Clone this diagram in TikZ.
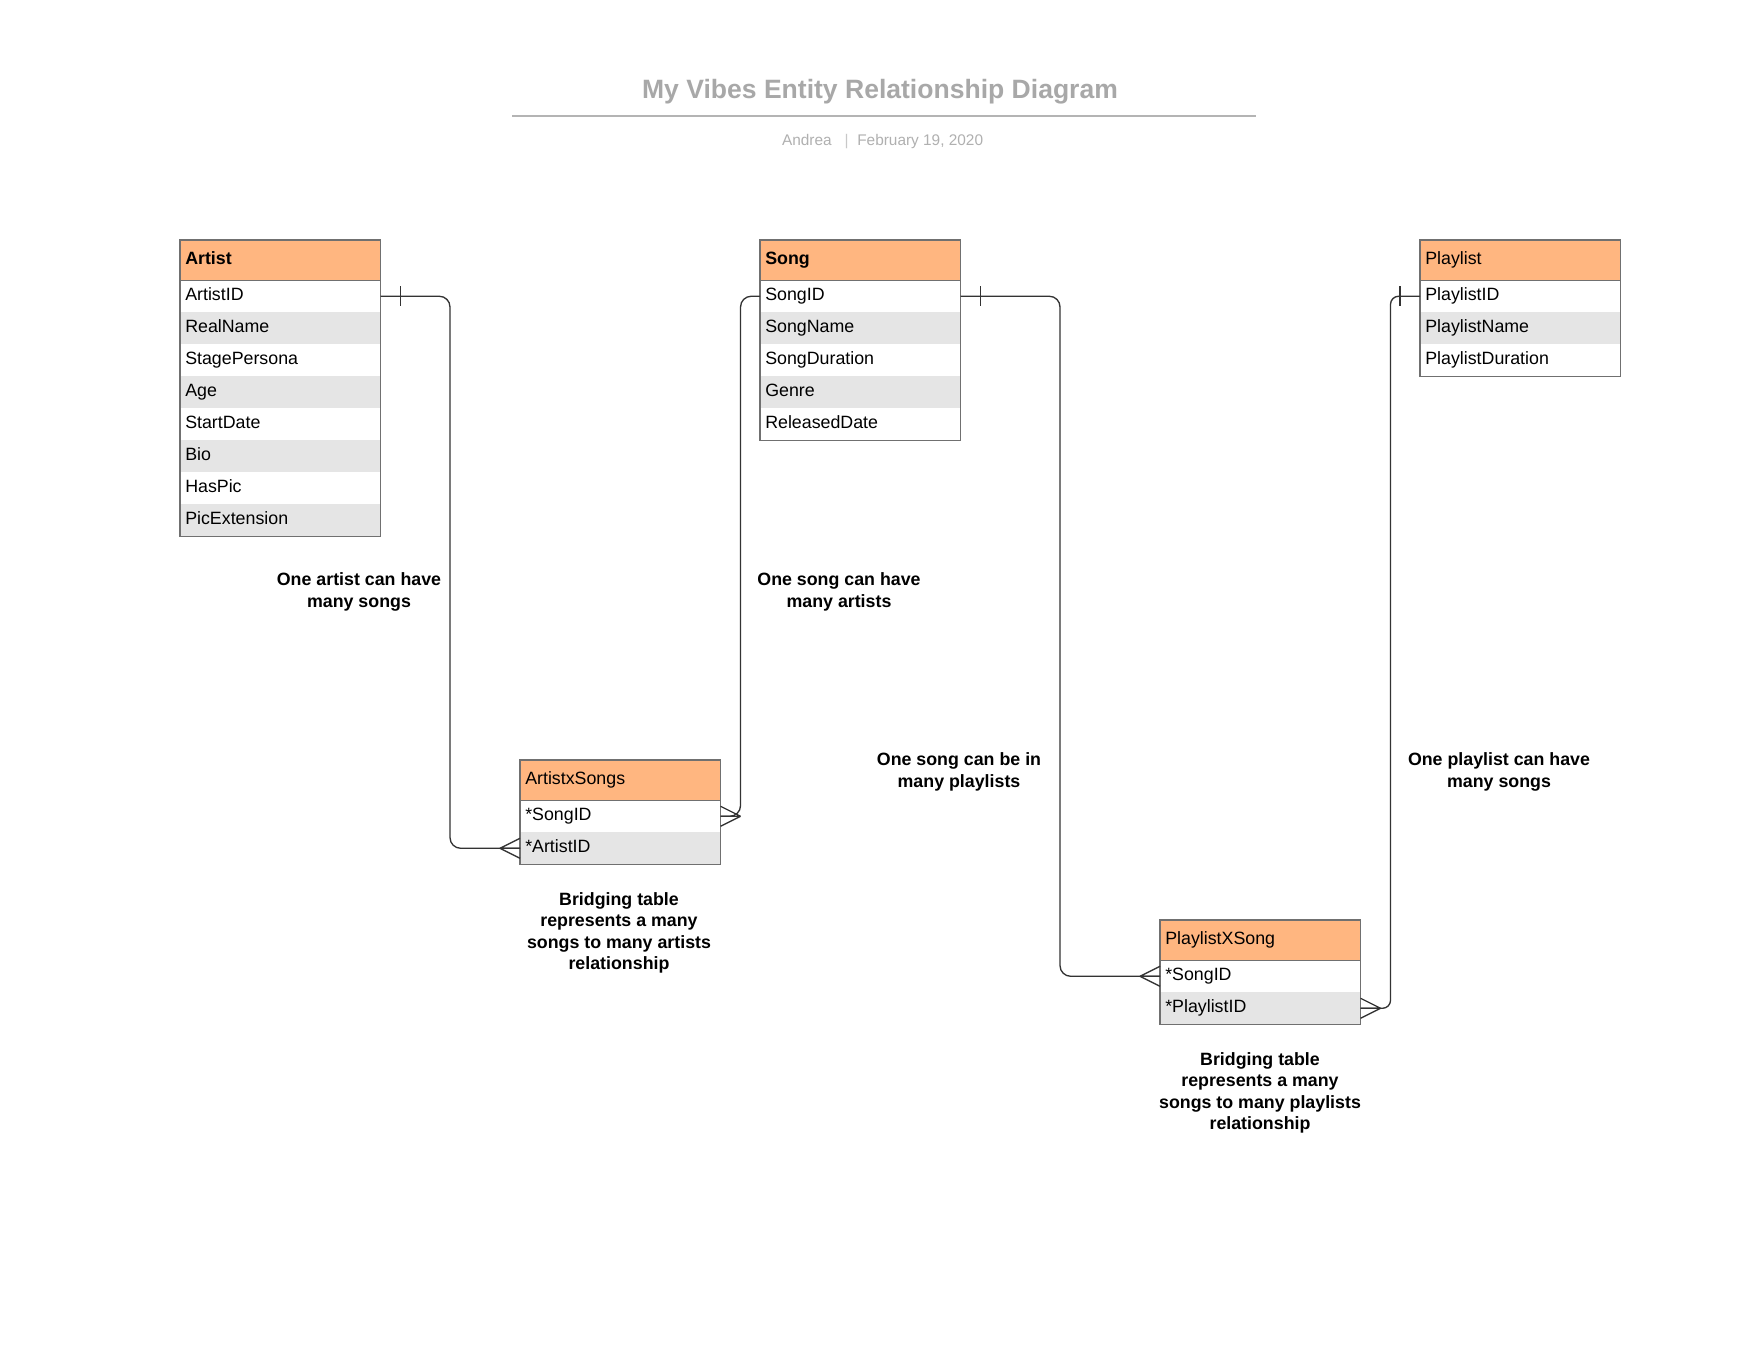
\documentclass[tikz,border=0pt]{standalone}
\usepackage{fontspec}
\setmainfont{Liberation Sans}
\usetikzlibrary{calc}
\definecolor{hdrorange}{RGB}{255,182,128}
\definecolor{rowgray}{RGB}{229,229,229}
\definecolor{bordergray}{RGB}{112,112,112}
\definecolor{conngray}{RGB}{51,51,51}
\definecolor{titlegray}{RGB}{168,168,168}
\definecolor{subgray}{RGB}{176,176,176}
\definecolor{sepgray}{RGB}{200,200,200}
\definecolor{rulegray}{RGB}{180,180,180}
\newcommand\ertxtfont{\fontsize{13.35pt}{16pt}\selectfont}
\newcommand\erlblfont{\fontsize{13.35pt}{16pt}\selectfont\bfseries}
\newcommand\ertitlefont{\fontsize{19.9pt}{24pt}\selectfont\bfseries}
\newcommand\ersubfont{\fontsize{11.55pt}{14pt}\selectfont}
\tikzset{
  rowbox/.style={rectangle, draw=none, anchor=north west, minimum width=150pt,
    text width=142.5pt, inner xsep=3.75pt, inner ysep=0pt, minimum height=24pt,
    text height=9.5pt, text depth=3.5pt, align=left, font=\ertxtfont},
  whiterow/.style={rowbox, fill=white},
  grayrow/.style={rowbox, fill=rowgray},
  hdrbox/.style={rowbox, minimum height=30pt, fill=hdrorange},
  tblborder/.style={draw=bordergray, line width=0.9pt},
  conn/.style={draw=conngray, line width=1pt},
  connr/.style={conn, rounded corners=8pt},
  lbl/.style={align=center, font=\erlblfont, inner sep=0pt},
}
% crow's foot: #1 anchor on box edge, #2 = -1 (point to the left) or 1 (point to the right)
\newcommand\ercrow[2]{%
  \draw[conn] ($(#1)+(#2*20,0)$) -- ($(#1)+(0,10)$)
              ($(#1)+(#2*20,0)$) -- ($(#1)+(0,-10)$)
              ($(#1)+(#2*20,0)$) -- (#1);}
% one-mark: tick at distance from box edge
\newcommand\ertick[2]{%
  \draw[conn] ($(#1)+(#2*20,-10)$) -- ($(#1)+(#2*20,10)$);}
\begin{document}
\begin{tikzpicture}[x=0.75pt, y=-0.75pt]
\useasboundingbox (0,0) rectangle (1758,1358);
\fill[white] (0,0) rectangle (1758,1358);

% title block
\node[font=\ertitlefont, text=titlegray, anchor=base, inner sep=0pt] (title) at (880,99) {My Vibes Entity Relationship Diagram};
\coordinate (ruleL) at (512,116.5);
\coordinate (ruleR) at (1256,116.5);
\draw[draw=rulegray, line width=1.5pt] (ruleL) -- (ruleR);
\node[font=\ersubfont, text=subgray, anchor=base east, inner sep=0pt] (author) at (832,146) {Andrea};
\node[font=\ersubfont, text=sepgray, anchor=base, inner sep=0pt] (sep) at (846.5,146) {|};
\node[font=\ersubfont, text=subgray, anchor=base west, inner sep=0pt] (date) at (857,146) {February 19, 2020};

% Artist
\node[hdrbox] (artist) at (180,240) {\textbf{Artist}};
\node[whiterow] (artist-1) at (180,280) {ArtistID};
\node[grayrow] (artist-2) at (180,312) {RealName};
\node[whiterow] (artist-3) at (180,344) {StagePersona};
\node[grayrow] (artist-4) at (180,376) {Age};
\node[whiterow] (artist-5) at (180,408) {StartDate};
\node[grayrow] (artist-6) at (180,440) {Bio};
\node[whiterow] (artist-7) at (180,472) {HasPic};
\node[grayrow] (artist-8) at (180,504) {PicExtension};
\draw[tblborder] (artist.north west) rectangle (artist-8.south east);
\draw[tblborder] (artist.south west) -- (artist.south east);

% Song
\node[hdrbox] (song) at (760,240) {\textbf{Song}};
\node[whiterow] (song-1) at (760,280) {SongID};
\node[grayrow] (song-2) at (760,312) {SongName};
\node[whiterow] (song-3) at (760,344) {SongDuration};
\node[grayrow] (song-4) at (760,376) {Genre};
\node[whiterow] (song-5) at (760,408) {ReleasedDate};
\draw[tblborder] (song.north west) rectangle (song-5.south east);
\draw[tblborder] (song.south west) -- (song.south east);

% Playlist
\node[hdrbox] (playlist) at (1420,240) {Playlist};
\node[whiterow] (playlist-1) at (1420,280) {PlaylistID};
\node[grayrow] (playlist-2) at (1420,312) {PlaylistName};
\node[whiterow] (playlist-3) at (1420,344) {PlaylistDuration};
\draw[tblborder] (playlist.north west) rectangle (playlist-3.south east);
\draw[tblborder] (playlist.south west) -- (playlist.south east);

% ArtistxSongs
\node[hdrbox] (axs) at (520,760) {ArtistxSongs};
\node[whiterow] (axs-1) at (520,800) {*SongID};
\node[grayrow] (axs-2) at (520,832) {*ArtistID};
\draw[tblborder] (axs.north west) rectangle (axs-2.south east);
\draw[tblborder] (axs.south west) -- (axs.south east);

% PlaylistXSong
\node[hdrbox] (pxs) at (1160,920) {PlaylistXSong};
\node[whiterow] (pxs-1) at (1160,960) {*SongID};
\node[grayrow] (pxs-2) at (1160,992) {*PlaylistID};
\draw[tblborder] (pxs.north west) rectangle (pxs-2.south east);
\draw[tblborder] (pxs.south west) -- (pxs.south east);

% connectors
\draw[connr] (artist-1.east) -| ($(axs-2.west)+(-70,0)$) -- (axs-2.west);
\ertick{artist-1.east}{1}
\ercrow{axs-2.west}{-1}

\draw[connr] (song-1.west) -| ($(axs-1.east)+(20,0)$) -- (axs-1.east);
\ercrow{axs-1.east}{1}

\draw[connr] (song-1.east) -| ($(pxs-1.west)+(-100,0)$) -- (pxs-1.west);
\ertick{song-1.east}{1}
\ercrow{pxs-1.west}{-1}

\draw[conn, rounded corners=6pt] (playlist-1.west) -| ($(pxs-2.east)+(30,0)$) -- (pxs-2.east);
\ertick{playlist-1.west}{-1}
\ercrow{pxs-2.east}{1}

% labels
\node[lbl] (lbl1) at (359,592) {One artist can have\\many songs};
\node[lbl] (lbl2) at (839,592) {One song can have\\many artists};
\node[lbl] (lbl3) at (959,772) {One song can be in\\many playlists};
\node[lbl] (lbl4) at (1499,772) {One playlist can have\\many songs};
\node[lbl] (lbl5) at (619,933) {Bridging table\\represents a many\\songs to many artists\\relationship};
\node[lbl] (lbl6) at (1260,1093) {Bridging table\\represents a many\\songs to many playlists\\relationship};
\end{tikzpicture}
\end{document}
